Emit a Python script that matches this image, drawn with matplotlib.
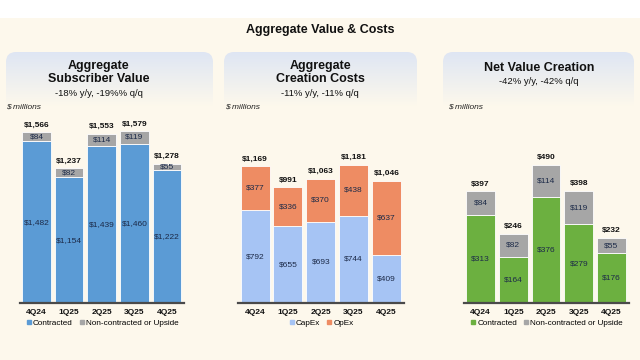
import numpy as np
import matplotlib
matplotlib.use("Agg")
import matplotlib.pyplot as plt
from matplotlib.patches import FancyBboxPatch
from matplotlib.lines import Line2D

plt.rcParams['font.family'] = ['Liberation Sans', 'DejaVu Sans']

quarters = ["4Q24", "1Q25", "2Q25", "3Q25", "4Q25"]

# Panel 1: Aggregate Subscriber Value
sub_contracted = [1482, 1154, 1439, 1460, 1222]
sub_upside = [84, 82, 114, 119, 55]
sub_total = [1566, 1237, 1553, 1579, 1278]

# Panel 2: Aggregate Creation Costs
capex = [792, 655, 693, 744, 409]
opex = [377, 336, 370, 438, 637]
cost_total = [1169, 991, 1063, 1181, 1046]

# Panel 3: Net Value Creation
net_contracted = [313, 164, 376, 279, 176]
net_upside = [84, 82, 114, 119, 55]
net_total = [397, 246, 490, 398, 232]

W, H = 640, 360
BG = "#fdf8ec"
fig = plt.figure(figsize=(6.4, 3.6), dpi=100)
fig.patch.set_facecolor(BG)

# top white band
band = fig.add_axes([0, 1 - 18 / H, 1, 18 / H])
band.set_facecolor("white")
band.set_xticks([]); band.set_yticks([])
for s in band.spines.values():
    s.set_visible(False)

fig.text(320 / W, 1 - 30 / H, "Aggregate Value & Costs", ha="center", va="center",
         fontsize=9, fontweight="bold", color="#111111")


def header(x0, x1, y0, y1):
    w, h = x1 - x0, y1 - y0
    ax = fig.add_axes([x0 / W, 1 - y1 / H, w / W, h / H])
    ax.set_xlim(0, w); ax.set_ylim(0, h)
    ax.axis("off")
    top = np.array([0.87, 0.90, 0.955])
    bot = np.array([0.992, 0.973, 0.925])
    t = np.linspace(0, 1, 100)[:, None]
    grad = top[None, :] * (1 - t) + bot[None, :] * t
    grad = grad[:, None, :].repeat(2, axis=1)
    im = ax.imshow(grad, extent=[0, w, 0, h], origin="upper", aspect="auto")
    patch = FancyBboxPatch((0.0, -20), w, h + 20, boxstyle="round,pad=0,rounding_size=10",
                           transform=ax.transData, facecolor="none", edgecolor="none")
    ax.add_patch(patch)
    im.set_clip_path(patch)


header(6, 213, 52, 106)
header(224, 417, 52, 106)
header(443, 634, 52, 106)

# header texts
fig.text(99 / W, 1 - 72.5 / H, "Aggregate\nSubscriber Value", ha="center", va="center",
         fontsize=9, fontweight="bold", linespacing=1.05, color="#111111")
fig.text(99 / W, 1 - 93 / H, "-18% y/y, -19%% q/q", ha="center", va="center",
         fontsize=6.8, color="#111111")
fig.text(320 / W, 1 - 72.5 / H, "Aggregate\nCreation Costs", ha="center", va="center",
         fontsize=9, fontweight="bold", linespacing=1.05, color="#111111")
fig.text(320 / W, 1 - 93 / H, "-11% y/y, -11% q/q", ha="center", va="center",
         fontsize=6.8, color="#111111")
fig.text(539 / W, 1 - 68 / H, "Net Value Creation", ha="center", va="center",
         fontsize=9, fontweight="bold", color="#111111")
fig.text(539 / W, 1 - 82 / H, "-42% y/y, -42% q/q", ha="center", va="center",
         fontsize=6.8, color="#111111")

for xm in (6, 225, 448):
    fig.text(xm / W, 1 - 107 / H, "$ millions", ha="left", va="center",
             fontsize=6, style="italic", color="#222222")

LBL = "#1c2a48"


def panel(x0, x1, ymax, bottom_vals, top_vals, totals, c_bot, c_top, names):
    ax = fig.add_axes([x0 / W, 1 - 303 / H, (x1 - x0) / W, 183 / H])
    ax.set_facecolor("none")
    x = np.arange(len(quarters))
    ax.bar(x, bottom_vals, width=0.88, color=c_bot, edgecolor="white", linewidth=0.6)
    ax.bar(x, top_vals, width=0.88, bottom=bottom_vals, color=c_top, edgecolor="white", linewidth=0.6)
    ax.set_xlim(-0.52, 4.52)
    ax.set_ylim(0, ymax)
    for i in range(len(x)):
        ax.text(x[i], bottom_vals[i] / 2, f"${bottom_vals[i]:,}", ha="center", va="center",
                fontsize=6, color=LBL)
        ax.text(x[i], bottom_vals[i] + top_vals[i] / 2, f"${top_vals[i]:,}", ha="center",
                va="center", fontsize=6, color=LBL)
        ax.annotate(f"${totals[i]:,}", (x[i], totals[i]), xytext=(0, 2.5),
                    textcoords="offset points", ha="center", va="bottom",
                    fontsize=6, fontweight="bold", color="#111111")
    for s in ("top", "right", "left"):
        ax.spines[s].set_visible(False)
    ax.spines["bottom"].set_color("#4a4a4a")
    ax.spines["bottom"].set_linewidth(1.6)
    ax.set_yticks([])
    ax.set_xticks(x)
    ax.set_xticklabels(quarters, fontsize=6, fontweight="bold", color="#111111")
    ax.tick_params(axis="x", length=0, pad=4)
    handles = [Line2D([], [], marker="s", linestyle="none", markersize=3.5,
                      markerfacecolor=c, markeredgecolor=c) for c in (c_bot, c_top)]
    ax.legend(handles, names, loc="center", bbox_to_anchor=(0.5, -0.11), ncol=2,
              frameon=False, fontsize=5.9, handletextpad=0.0, columnspacing=0.6,
              handlelength=1.0, borderaxespad=0)
    return ax


BLUE = "#5b9bd5"
GREY = "#a6a6a6"
CAPEX = "#a6c4f4"
OPEX = "#ee8c63"
GREEN = "#6cb040"

panel(19.5, 184, 1679, sub_contracted, sub_upside, sub_total, BLUE, GREY,
      ["Contracted", "Non-contracted or Upside"])
panel(238, 403.5, 1564, capex, opex, cost_total, CAPEX, OPEX, ["CapEx", "OpEx"])
panel(463.5, 628.5, 649, net_contracted, net_upside, net_total, GREEN, GREY,
      ["Contracted", "Non-contracted or Upside"])

fig.savefig("out.png", dpi=100, facecolor=BG)
